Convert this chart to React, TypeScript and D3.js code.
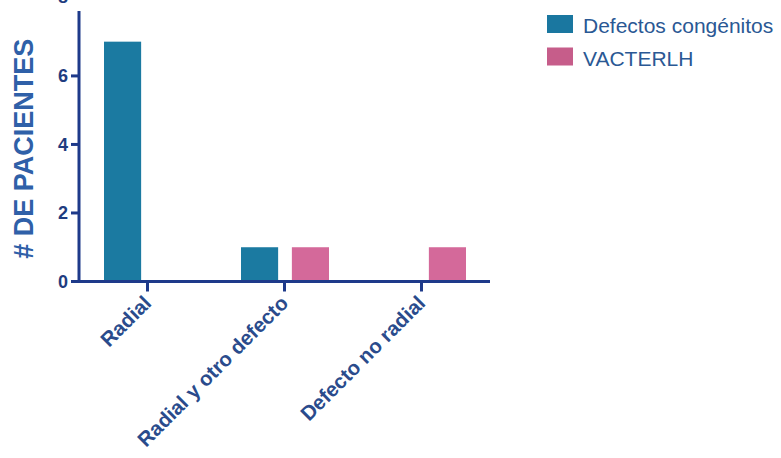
import React from "react";
import * as d3 from "d3";

const categories = ["Radial", "Radial y otro defecto", "Defecto no radial"];
const seriesNames = ["Defectos congénitos", "VACTERLH"];
const defectosCongenitos = [7, 1, 0];
const vacterlh = [0, 1, 1];
const yTicks = [0, 2, 4, 6, 8];
const colors = ["#1b7aa1", "#d4699a"];
const legendColors = ["#1a77a0", "#c65d8a"];

const W = 781;
const H = 458;
const axisColor = "#1e3a8a";

export default function App() {
  const series = [defectosCongenitos, vacterlh];
  const x0 = d3.scaleBand<string>().domain(categories).range([79, 490]).padding(0);
  const x1 = d3
    .scaleBand<string>()
    .domain(seriesNames)
    .range([25, x0.bandwidth() - 24])
    .paddingInner(0.27);
  const y = d3.scaleLinear().domain([0, 8]).range([281.5, 7.4]);

  return (
    <svg
      width={W}
      height={H}
      style={{ position: "absolute", left: 0, top: 0, background: "#fff" }}
      fontFamily="Liberation Sans, Arial, sans-serif"
    >
      {/* bars */}
      {categories.map((c, i) => (
        <g key={c} transform={`translate(${x0(c)},0)`}>
          {seriesNames.map((s, j) => (
            <rect
              key={s}
              x={x1(s)}
              width={x1.bandwidth()}
              y={y(series[j][i])}
              height={y(0) - y(series[j][i])}
              fill={colors[j]}
            />
          ))}
        </g>
      ))}

      {/* y axis */}
      <line x1={79} x2={79} y1={y(0) + 1.5} y2={11} stroke={axisColor} strokeWidth={3} />
      {yTicks.map((t) => (
        <g key={t} transform={`translate(0,${y(t)})`}>
          {t < 8 && <line x1={71} x2={79} stroke={axisColor} strokeWidth={3} />}
          <text
            x={68}
            dy={t === 8 ? "-0.25em" : "0.36em"}
            textAnchor="end"
            fontSize={18}
            fontWeight="bold"
            fill="#1f3c80"
          >
            {t}
          </text>
        </g>
      ))}

      {/* x axis */}
      <line x1={77.5} x2={490} y1={y(0)} y2={y(0)} stroke={axisColor} strokeWidth={3} />
      {categories.map((c) => {
        const cx = (x0(c) as number) + x0.bandwidth() / 2;
        return (
          <g key={c}>
            <line x1={cx} x2={cx} y1={y(0)} y2={y(0) + 10} stroke={axisColor} strokeWidth={3} />
            <text
              transform={`translate(${cx + 5},${y(0) + 23}) rotate(-45)`}
              textAnchor="end"
              fontSize={20.5}
              fontWeight="bold"
              fill="#2a4b8c"
            >
              {c}
            </text>
          </g>
        );
      })}

      {/* y title */}
      <text
        transform={`translate(33,${(y(0) + 11) / 2 + 2.5}) rotate(-90)`}
        textAnchor="middle"
        fontSize={27}
        fontWeight="bold"
        fill="#2f60a8"
      >
        # DE PACIENTES
      </text>

      {/* legend */}
      {seriesNames.map((s, j) => (
        <g key={s} transform={`translate(547,${15 + j * 32.5})`}>
          <rect width={26} height={18} fill={legendColors[j]} />
          <text x={36} y={18} fontSize={21} fill="#2a5894">
            {s}
          </text>
        </g>
      ))}
    </svg>
  );
}
